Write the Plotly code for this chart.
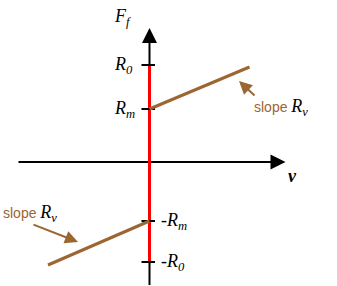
import plotly.graph_objects as go

# conceptual coordinates (v horizontal, F_f vertical), origin at the axes crossing
v_axis = [-13.1, 13.6]
f_axis = [-12.3, 13.4]
red_F = [-10.0, 9.7]
tick_F = [9.7, 5.3, -5.9, -10.0]
tick_labels = ["R<sub>0</sub>", "R<sub>m</sub>", "-R<sub>m</sub>", "-R<sub>0</sub>"]
tick_side = ["left", "left", "right", "right"]
tick_span = [-0.8, 0.55]
upper_v = [0.0, 10.0]
upper_F = [5.3, 9.5]
lower_v = [-10.15, 0.0]
lower_F = [-10.3, -5.9]
# slope pointer arrows: (tail_v, tail_F, head_v, head_F)
slope_arrows = [(10.65, 6.5, 8.95, 8.1), (-11.75, -6.2, -7.15, -8.0)]
slope_labels = [(10.25, 5.5), (-14.85, -5.1)]

BROWN = "#9c6632"
SERIF = "Liberation Serif"

fig = go.Figure()

def line(x, y, color, width):
    fig.add_trace(go.Scatter(x=x, y=y, mode="lines",
                             line=dict(color=color, width=width), hoverinfo="skip"))

# axes bodies (black), arrow tips added as annotations
line([v_axis[0], v_axis[1] - 1.0], [0, 0], "black", 2)
line([0, 0], [f_axis[0], f_axis[1] - 1.0], "black", 2)
# red vertical segment (on top of the axes)
line([0, 0], red_F, "#ff0000", 3)
# tick marks
for f in tick_F:
    line(tick_span, [f, f], "black", 2)
# brown friction lines
line(upper_v, upper_F, BROWN, 3)
line(lower_v, lower_F, BROWN, 3)

ann = []
# axis arrow heads
ann.append(dict(x=v_axis[1], y=0, ax=v_axis[1] - 1.5, ay=0, xref="x", yref="y",
                axref="x", ayref="y", showarrow=True, arrowhead=2, arrowsize=1.5,
                arrowwidth=2, arrowcolor="black", text=""))
ann.append(dict(x=0, y=f_axis[1], ax=0, ay=f_axis[1] - 1.5, xref="x", yref="y",
                axref="x", ayref="y", showarrow=True, arrowhead=2, arrowsize=1.5,
                arrowwidth=2, arrowcolor="black", text=""))
# slope arrows
for tv, tf, hv, hf in slope_arrows:
    ann.append(dict(x=hv, y=hf, ax=tv, ay=tf, xref="x", yref="y",
                    axref="x", ayref="y", showarrow=True, arrowhead=2, arrowsize=1.3,
                    arrowwidth=2, arrowcolor=BROWN, text=""))
# tick labels
for f, lab, side in zip(tick_F, tick_labels, tick_side):
    xpos = -3.75 if side == "left" else 0.95
    ann.append(dict(x=xpos, y=f, xref="x", yref="y", showarrow=False,
                    xanchor="left", yanchor="middle", text="<i>" + lab + "</i>",
                    font=dict(family=SERIF, size=18, color="black")))
# axis titles
ann.append(dict(x=-3.75, y=14.5, xref="x", yref="y", showarrow=False,
                xanchor="left", yanchor="middle", text="<i>F<sub>f</sub></i>",
                font=dict(family=SERIF, size=18, color="black")))
ann.append(dict(x=13.65, y=-1.4, xref="x", yref="y", showarrow=False,
                xanchor="left", yanchor="middle", text="<b><i>v</i></b>",
                font=dict(family=SERIF, size=18, color="black")))
# slope labels
for sx, sy in slope_labels:
    ann.append(dict(x=sx, y=sy, xref="x", yref="y", showarrow=False,
                    xanchor="left", yanchor="middle",
                    text="<span style='font-family:Liberation Sans;font-size:14px;color:" + BROWN +
                         "'>slope </span><i>R<sub>v</sub></i>",
                    font=dict(family=SERIF, size=18, color="black")))

fig.update_layout(
    width=337, height=286, autosize=False,
    margin=dict(l=0, r=0, t=0, b=0),
    paper_bgcolor="white", plot_bgcolor="white",
    showlegend=False,
    xaxis=dict(range=[-14.95, 18.75], visible=False, fixedrange=True),
    yaxis=dict(range=[-12.4, 16.2], visible=False, fixedrange=True),
    annotations=ann,
)

fig.write_html("out.html", config={"displayModeBar": False})
